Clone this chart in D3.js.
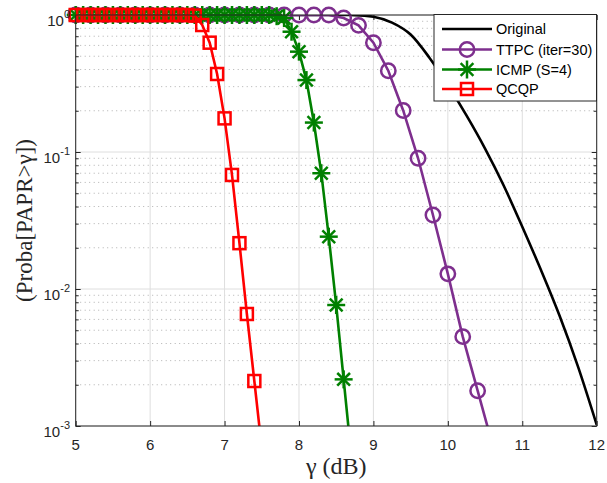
<!DOCTYPE html>
<html><head><meta charset="utf-8">
<script src="https://cdn.jsdelivr.net/npm/d3@7"></script>
<style>body{margin:0;background:#fff}svg{display:block}</style>
</head><body>
<svg id="c" width="607" height="483"></svg>
<script>
// ---- data ----
const xTicks = [5, 6, 7, 8, 9, 10, 11, 12];
const yTickExps = [0, -1, -2, -3];
const seriesNames = ["Original", "TTPC (iter=30)", "ICMP (S=4)", "QCQP"];
const seriesColors = ["#000000", "#7E2F8E", "#008000", "#FF0000"];

const origX = [5, 5.5, 6, 6.5, 7, 7.5, 8, 8.5, 8.75, 9.0, 9.25, 9.5, 9.75, 10, 10.25, 10.5, 10.75, 11, 11.25, 11.5, 11.75, 12];
const origY = [1, 1, 1, 1, 1, 1, 1, 1, 0.998, 0.972, 0.88, 0.72, 0.49, 0.308, 0.185, 0.106, 0.057, 0.0285, 0.0138, 0.0064, 0.0027, 0.00102];

const ttpcX = [5.0, 5.2, 5.4, 5.6, 5.8, 6.0, 6.2, 6.4, 6.6, 6.8, 7.0, 7.2, 7.4, 7.6, 7.8, 8.0, 8.2, 8.4,
               8.6, 8.8, 9.0, 9.2, 9.4, 9.6, 9.8, 10.0, 10.2, 10.4, 10.6];
const ttpcY = [1, 1, 1, 1, 1, 1, 1, 1, 1, 1, 1, 1, 1, 1, 1, 1, 1, 1,
               0.95, 0.84, 0.628, 0.392, 0.201, 0.09, 0.0347, 0.0129, 0.00449, 0.00181, 0.00073];

const icmpX = [5.0, 5.1, 5.2, 5.3, 5.4, 5.5, 5.6, 5.7, 5.8, 5.9, 6.0, 6.1, 6.2, 6.3, 6.4, 6.5, 6.6, 6.7, 6.8, 6.9,
               7.0, 7.1, 7.2, 7.3, 7.4, 7.5, 7.6, 7.7, 7.8, 7.9, 8.0, 8.1, 8.2, 8.3, 8.4, 8.5, 8.6, 8.7];
const icmpY = [1, 1, 1, 1, 1, 1, 1, 1, 1, 1, 1, 1, 1, 1, 1, 1, 1, 1, 1, 1,
               1, 1, 1, 1, 1, 1, 1, 0.98, 0.95, 0.755, 0.54, 0.335, 0.164, 0.07, 0.0241, 0.00764, 0.00219, 0.00063];

const qcqpX = [5.0, 5.1, 5.2, 5.3, 5.4, 5.5, 5.6, 5.7, 5.8, 5.9, 6.0, 6.1, 6.2, 6.3, 6.4, 6.5, 6.6,
               6.7, 6.8, 6.9, 7.0, 7.1, 7.2, 7.3, 7.4, 7.5];
const qcqpY = [1, 1, 1, 1, 1, 1, 1, 1, 1, 1, 1, 1, 1, 1, 1, 1, 0.99,
               0.845, 0.628, 0.371, 0.176, 0.068, 0.0216, 0.00657, 0.00213, 0.00069];

// ---- layout ----
const L = 75.7, R = 596.7, T = 15, B = 426;
const axisColor = "#262626";
const svg = d3.select("#c");
const x = d3.scaleLinear().domain([5, 12]).range([L, R]);
const y = d3.scaleLog().domain([1e-3, 1]).range([B, T]);

svg.append("defs").append("clipPath").attr("id", "clip")
  .append("rect").attr("x", L).attr("y", T).attr("width", R - L).attr("height", B - T);

// grid
const minorVals = [];
[-3, -2, -1].forEach(e => { for (let k = 2; k <= 9; k++) minorVals.push(k * Math.pow(10, e)); });
const grid = svg.append("g");
grid.selectAll(".mg").data(minorVals).join("line")
  .attr("x1", L).attr("x2", R).attr("y1", d => y(d)).attr("y2", d => y(d))
  .attr("stroke", "#b0b0b0").attr("stroke-width", 1).attr("stroke-dasharray", "1,3.5");
grid.selectAll(".gx").data(xTicks).join("line")
  .attr("x1", d => x(d)).attr("x2", d => x(d)).attr("y1", T).attr("y2", B)
  .attr("stroke", "#dedede").attr("stroke-width", 1);
grid.selectAll(".gy").data(yTickExps).join("line")
  .attr("x1", L).attr("x2", R).attr("y1", d => y(Math.pow(10, d))).attr("y2", d => y(Math.pow(10, d)))
  .attr("stroke", "#dedede").attr("stroke-width", 1);

// axes (box with inward ticks)
const ax = svg.append("g");
ax.append("g").attr("transform", `translate(0,${B})`)
  .call(d3.axisBottom(x).tickValues(xTicks).tickSizeInner(-5).tickSizeOuter(0).tickFormat(""));
ax.append("g").attr("transform", `translate(0,${T})`)
  .call(d3.axisTop(x).tickValues(xTicks).tickSizeInner(-5).tickSizeOuter(0).tickFormat(""));
const yMajor = yTickExps.map(e => Math.pow(10, e));
ax.append("g").attr("transform", `translate(${L},0)`)
  .call(d3.axisLeft(y).tickValues(yMajor).tickSizeInner(-5).tickSizeOuter(0).tickFormat(""));
ax.append("g").attr("transform", `translate(${R},0)`)
  .call(d3.axisRight(y).tickValues(yMajor).tickSizeInner(-5).tickSizeOuter(0).tickFormat(""));
ax.append("g").attr("transform", `translate(${L},0)`)
  .call(d3.axisLeft(y).tickValues(minorVals).tickSizeInner(-3).tickSizeOuter(0).tickFormat(""));
ax.append("g").attr("transform", `translate(${R},0)`)
  .call(d3.axisRight(y).tickValues(minorVals).tickSizeInner(-3).tickSizeOuter(0).tickFormat(""));
ax.selectAll("path.domain").remove();
ax.selectAll("line").attr("stroke", axisColor).attr("stroke-width", 1);

// series
const lineGen = d3.line().x(d => x(d[0])).y(d => y(d[1]));
const series = [
  { xs: origX, ys: origY, marker: null, curve: d3.curveMonotoneX },
  { xs: ttpcX, ys: ttpcY, marker: "circle", curve: d3.curveLinear },
  { xs: icmpX, ys: icmpY, marker: "star", curve: d3.curveLinear },
  { xs: qcqpX, ys: qcqpY, marker: "square", curve: d3.curveLinear }
];

function drawMarker(g, type, cx, cy, color) {
  if (type === "circle") {
    g.append("circle").attr("cx", cx).attr("cy", cy).attr("r", 7.2)
      .attr("fill", "none").attr("stroke", color).attr("stroke-width", 2.5);
  } else if (type === "square") {
    const s = 12;
    g.append("rect").attr("x", cx - s / 2).attr("y", cy - s / 2).attr("width", s).attr("height", s)
      .attr("fill", "none").attr("stroke", color).attr("stroke-width", 2.5);
  } else if (type === "star") {
    const r = 9, d = r * 0.7071;
    const segs = [[-r, 0, r, 0], [0, -r, 0, r], [-d, -d, d, d], [-d, d, d, -d]];
    segs.forEach(s => g.append("line")
      .attr("x1", cx + s[0]).attr("y1", cy + s[1]).attr("x2", cx + s[2]).attr("y2", cy + s[3])
      .attr("stroke", color).attr("stroke-width", 2.5));
  }
}

series.forEach((s, i) => {
  const pts = s.xs.map((xv, j) => [xv, s.ys[j]]);
  const g = svg.append("g");
  g.append("path").datum(pts)
    .attr("d", lineGen.curve(s.curve))
    .attr("clip-path", "url(#clip)")
    .attr("fill", "none").attr("stroke", seriesColors[i]).attr("stroke-width", 2.6);
  if (s.marker) {
    pts.filter(p => p[1] >= 1e-3 && p[1] <= 1 && p[0] >= 5 && p[0] <= 12)
      .forEach(p => drawMarker(g, s.marker, x(p[0]), y(p[1]), seriesColors[i]));
  }
});

// tick labels
const lab = svg.append("g").attr("font-family", "'Liberation Sans', Arial, sans-serif").attr("fill", axisColor);
lab.selectAll(".xl").data(xTicks).join("text")
  .attr("x", d => x(d)).attr("y", B + 24).attr("text-anchor", "middle").attr("font-size", 15)
  .text(d => d);
yTickExps.forEach(e => {
  const t = lab.append("text").attr("x", 70).attr("y", y(Math.pow(10, e)) + 11)
    .attr("text-anchor", "end").attr("font-size", 15);
  t.append("tspan").text("10");
  t.append("tspan").attr("dy", -8).attr("font-size", 11).text(e === 0 ? "0" : "-" + Math.abs(e));
});

// axis titles
svg.append("text").attr("x", (L + R) / 2).attr("y", 474).attr("text-anchor", "middle")
  .attr("font-family", "'Liberation Serif', 'Times New Roman', serif").attr("font-size", 24)
  .attr("fill", axisColor).text("γ (dB)");
svg.append("text").attr("transform", `translate(32,${(T + B) / 2}) rotate(-90)`)
  .attr("text-anchor", "middle")
  .attr("font-family", "'Liberation Serif', 'Times New Roman', serif").attr("font-size", 23)
  .attr("fill", axisColor).text("(Proba[PAPR>γ])");

// box border
svg.append("rect").attr("x", L).attr("y", T).attr("width", R - L).attr("height", B - T)
  .attr("fill", "none").attr("stroke", axisColor).attr("stroke-width", 1);

// legend
const lg = svg.append("g");
lg.append("rect").attr("x", 434).attr("y", 14.5).attr("width", 162.5).attr("height", 86.5)
  .attr("fill", "#fff").attr("stroke", axisColor).attr("stroke-width", 1);
const legY = [29, 49.5, 69.5, 89];
const legMarkers = [null, "circle", "star", "square"];
seriesNames.forEach((name, i) => {
  lg.append("line").attr("x1", 442).attr("x2", 492).attr("y1", legY[i]).attr("y2", legY[i])
    .attr("stroke", seriesColors[i]).attr("stroke-width", 2.6);
  if (legMarkers[i]) drawMarker(lg, legMarkers[i], 467, legY[i], seriesColors[i]);
  lg.append("text").attr("x", 496).attr("y", legY[i] + 5)
    .attr("font-family", "'Liberation Sans', Arial, sans-serif").attr("font-size", 14.5)
    .attr("fill", "#000").text(name);
});
</script>
</body></html>
